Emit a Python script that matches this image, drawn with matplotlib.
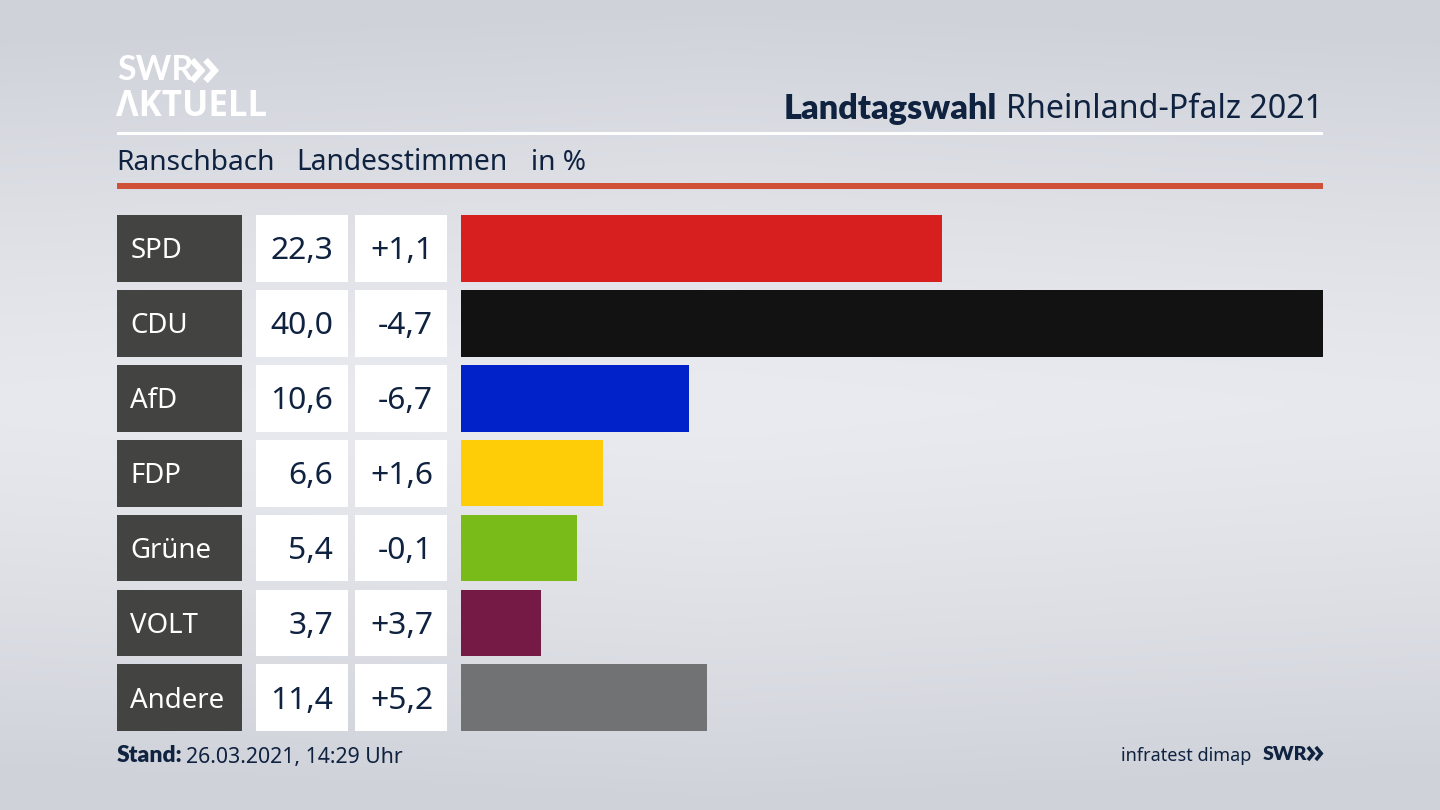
import matplotlib
matplotlib.use('Agg')
import matplotlib.pyplot as plt
import numpy as np
from matplotlib.patches import Rectangle

parties = ['SPD', 'CDU', 'AfD', 'FDP', 'Grüne', 'VOLT', 'Andere']
shares = [22.3, 40.0, 10.6, 6.6, 5.4, 3.7, 11.4]
changes = ['+1,1', '-4,7', '-6,7', '+1,6', '-0,1', '+3,7', '+5,2']
colors = ['#d71f1f', '#121212', '#0022c8', '#ffcc08', '#79bc19', '#741a45', '#717273']

NAVY = '#0f2240'
W, H = 1440, 810
ROW_TOP = 215
ROW_PITCH = 74.9
ROW_H = 66.8
BOLD = ['Lato', 'DejaVu Sans']

plt.rcParams['font.family'] = ['Noto Sans', 'DejaVu Sans']

fig = plt.figure(figsize=(W / 100, H / 100), dpi=100)

# canvas in pixel coordinates, y pointing down
ax = fig.add_axes([0, 0, 1, 1])
ax.set_xlim(0, W)
ax.set_ylim(H, 0)
ax.axis('off')

# background: light band in the middle, darker top and bottom
yy, xx = np.mgrid[0:1:162j, 0:1:288j]
shade = np.abs(yy - 0.5) * 2
shade = np.clip(shade ** 1.3 + 0.1 * np.abs(xx - 0.5) * 2, 0, 1)
light = np.array([234, 235, 240]) / 255
dark = np.array([207, 210, 217]) / 255
bg = light + (dark - light) * shade[..., None]
ax.imshow(bg, extent=(0, W, H, 0), aspect='auto', interpolation='bilinear', zorder=0)
ax.set_xlim(0, W)
ax.set_ylim(H, 0)


def chevrons(x, y, w, h, color, lw):
    # the double arrow of the SWR logo
    for off in (0, w * 0.52):
        ax.plot([x + off, x + off + w * 0.36, x + off], [y, y + h / 2, y + h],
                color=color, lw=lw, solid_joinstyle='miter', solid_capstyle='butt', zorder=3)


# logo
ax.text(117, 70, 'SWR', color='white', fontsize=24.5, fontweight='bold', family=BOLD, va='center', ha='left')
chevrons(192, 60, 26, 21, 'white', 4.5)
ax.text(116, 107, 'ΛKTUELL', color='white', fontsize=25, fontweight='bold', family=['Open Sans', 'DejaVu Sans'],
        va='center', ha='left')

# header
ax.text(1323, 109, 'Rheinland-Pfalz 2021', color=NAVY, fontsize=23.2, va='center', ha='right')
ax.text(997, 109, 'Landtagswahl', color=NAVY, fontsize=24.7, fontweight='heavy', family=BOLD, va='center', ha='right')
ax.add_patch(Rectangle((117, 132), 1206, 3, color='white', lw=0, zorder=2))
ax.text(116, 163, 'Ranschbach', color=NAVY, fontsize=20.2, va='center', ha='left')
ax.text(296, 163, 'Landesstimmen', color=NAVY, fontsize=20.3, va='center', ha='left')
ax.text(531, 163, 'in %', color=NAVY, fontsize=20.2, va='center', ha='left')
ax.add_patch(Rectangle((117, 183), 1206, 6, color='#cf5138', lw=0, zorder=2))

# table cells left of the bars
for i, (party, share, change) in enumerate(zip(parties, shares, changes)):
    top = ROW_TOP + i * ROW_PITCH
    mid = top + ROW_H / 2
    ax.add_patch(Rectangle((117, top), 124.5, ROW_H, color='#434341', lw=0, zorder=2))
    ax.add_patch(Rectangle((256, top), 92, ROW_H, color='white', lw=0, zorder=2))
    ax.add_patch(Rectangle((355, top), 92, ROW_H, color='white', lw=0, zorder=2))
    ax.text(130.5, mid + 3, party, color='white', fontsize=19.9, va='center', ha='left', zorder=3)
    ax.text(333, mid + 3, f'{share:.1f}'.replace('.', ','), color=NAVY, fontsize=22.9,
            va='center', ha='right', zorder=3)
    ax.text(433, mid + 3, change, color=NAVY, fontsize=22.9, va='center', ha='right', zorder=3)

# footer
ax.text(117, 755, 'Stand:', color=NAVY, fontsize=16.5, fontweight='heavy', family=BOLD, va='center', ha='left')
ax.text(186, 757, '26.03.2021, 14:29 Uhr', color=NAVY, fontsize=15.3, va='center', ha='left')
ax.text(1251, 756, 'infratest dimap', color=NAVY, fontsize=13, va='center', ha='right')
ax.text(1263, 754, 'SWR', color=NAVY, fontsize=14, fontweight='heavy', family=BOLD, va='center', ha='left')
chevrons(1308, 747, 15, 13, NAVY, 2.6)

# bars, scaled so that 40 % spans the full width
bar_ax = fig.add_axes([461 / W, 1 - (ROW_TOP + 6 * ROW_PITCH + ROW_H) / H,
                       (1323 - 461) / W, (6 * ROW_PITCH + ROW_H) / H])
bar_ax.patch.set_alpha(0)
bar_ax.barh(np.arange(len(parties)), shares, height=ROW_H / ROW_PITCH, color=colors)
bar_ax.set_xlim(0, 40)
half = ROW_H / ROW_PITCH / 2
bar_ax.set_ylim(len(parties) - 1 + half, -half)
bar_ax.axis('off')

fig.savefig('out.png', dpi=100)
